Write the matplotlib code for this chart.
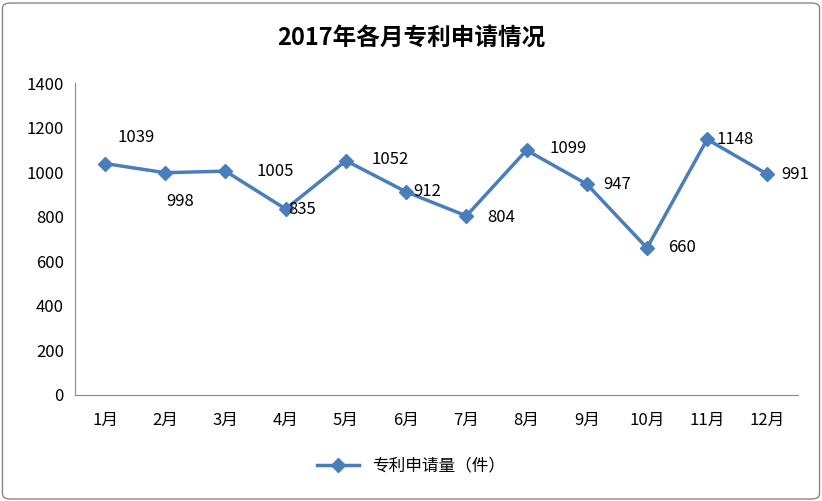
import matplotlib
matplotlib.use("Agg")
import matplotlib.pyplot as plt
from matplotlib import font_manager
from matplotlib.patches import FancyBboxPatch

cjk = [f.name for f in font_manager.fontManager.ttflist if "CJK" in f.name]
pref = [n for n in ["Noto Sans CJK SC", "Noto Sans CJK JP", "Noto Sans CJK TC", "Noto Sans CJK KR"] if n in cjk] or cjk
plt.rcParams["font.family"] = (pref[:1] if pref else []) + ["DejaVu Sans"]

months = ["1月", "2月", "3月", "4月", "5月", "6月", "7月", "8月", "9月", "10月", "11月", "12月"]
values = [1039, 998, 1005, 835, 1052, 912, 804, 1099, 947, 660, 1148, 991]
yticks = [0, 200, 400, 600, 800, 1000, 1200, 1400]
title = "2017年各月专利申请情况"
series_name = "专利申请量（件）"

fig = plt.figure(figsize=(8.22, 5.01), dpi=100)
fig.patches.append(FancyBboxPatch((0.003, 0.004), 0.994, 0.99, boxstyle="round,pad=0,rounding_size=0.01",
                                  transform=fig.transFigure, fill=False, edgecolor="#888888", lw=1))
ax = fig.add_axes([0.0912, 0.2116, 0.879, 0.6224])
x = list(range(len(months)))
color = "#4A7EBB"
ax.plot(x, values, color=color, lw=2.5, marker="D", ms=7, label=series_name)
ax.set_xlim(-0.5, len(months) - 0.5)
ax.set_ylim(0, 1400)
ax.set_yticks(yticks)
ax.set_xticks(x)
ax.set_xticklabels(months)
ax.tick_params(labelsize=12, length=0, pad=8)
ax.tick_params(axis="x", pad=12)
for s in ["top", "right"]:
    ax.spines[s].set_visible(False)
for s in ["left", "bottom"]:
    ax.spines[s].set_color("#888888")

offsets = [(22, 19), (11, -21), (36, 0), (12, 0), (32, 1), (15, 0), (25, -1), (30, 1), (22, 0), (25, 0), (20, 0), (20, 0)]
for xi, v, (dx, dy) in zip(x, values, offsets):
    ax.annotate(str(v), (xi, v), xytext=(dx, dy), textcoords="offset points",
                ha="center", va="center", fontsize=12)

fig.text(0.5, 0.925, title, ha="center", va="center", fontsize=17, fontweight="bold")
fig.legend(loc="center", bbox_to_anchor=(0.5, 0.07), frameon=False, fontsize=12, handlelength=2.5)
fig.savefig("out.png", dpi=100)
